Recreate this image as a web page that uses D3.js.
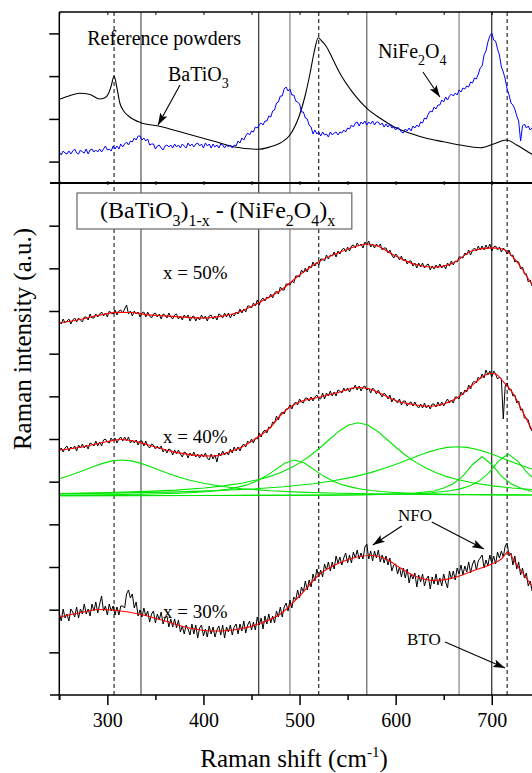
<!DOCTYPE html>
<html><head><meta charset="utf-8">
<script src="https://cdn.jsdelivr.net/npm/d3@7"></script>
<style>html,body{margin:0;padding:0;background:#fff;} svg{display:block;font-family:"Liberation Serif","Times New Roman",serif;}</style>
</head><body><svg id="chart" width="532" height="773"></svg>
<script>
// ---------------- DATA ----------------
// Raman shift grid (cm-1) of the measured spectra
const shiftGrid = d3.range(250, 751, 2);

// Top panel: reference powders (intensity, a.u.)
const nife2o4Ref = [
  31,28,32,30,29,32,29,32,34,30,
  29,33,31,30,34,29,33,34,31,33,
  31,34,31,34,37,33,34,32,37,34,
  37,34,39,36,39,41,38,42,41,45,
  43,47,47,43,45,42,44,38,39,39,
  34,37,38,35,33,37,38,36,38,35,
  39,36,38,35,39,37,35,40,37,39,
  36,39,40,37,39,35,40,37,39,35,
  39,36,38,35,39,38,35,38,36,38,
  35,38,37,42,40,45,43,47,50,48,
  52,51,56,55,58,60,58,62,62,67,
  66,72,73,80,81,87,87,94,96,92,
  94,88,88,82,81,79,71,71,65,64,
  58,56,49,53,49,51,47,51,48,49,
  46,51,48,50,51,48,51,50,53,51,
  55,54,58,56,60,61,57,61,59,62,
  58,61,59,62,58,61,61,58,60,56,
  59,56,59,55,56,53,56,54,51,50,
  54,52,55,52,57,55,58,56,61,60,
  65,64,69,72,71,76,74,78,78,83,
  81,86,83,87,89,87,90,88,93,91,
  95,94,97,96,101,100,105,104,109,115,
  117,128,132,141,147,150,143,142,134,128,
  116,111,104,94,88,80,78,74,67,62,
  42,57,59,55,57,53,55,51,53,49,
  51];
const batio3Ref = [[250,83.7],[260,87],[271,89.7],[282,88.5],[292,84],[297,85],[301,89],[304,97],[307,107],[310,95],[313,80],[317,72],[322,67],[335,60.3],[353,57],[380,50],[410,42],[431,36.3],[457,33.7],[469,36],[480,40],[490,48],[500,68],[506,88],[511,110],[515,130],[519.5,145.3],[523,142],[528,136.3],[535,123],[542,109.7],[556,89.7],[570,74.7],[584,64.7],[598,56.3],[615,49.7],[632,44.7],[650,41.3],[667,38],[688,35.3],[702,39],[715.5,43],[726,38],[742,28.7],[750,25]];

// Bottom panel: composites (intensity, a.u., offset stack)
const spec50 = [
  373,371,376,372,374,376,371,375,377,373,
  377,375,373,378,378,375,381,377,377,381,
  378,381,383,379,382,378,384,382,381,385,
  380,384,385,382,386,390,381,384,379,384,
  381,383,378,382,383,378,383,379,377,381,
  382,378,381,376,381,380,377,382,378,376,
  380,381,376,379,375,380,377,380,374,378,
  379,374,378,375,380,376,379,374,379,380,
  376,379,375,381,380,377,382,378,382,377,
  381,379,383,381,386,382,386,383,389,389,
  387,392,389,395,390,395,397,394,398,397,
  401,397,402,404,401,408,405,405,411,411,
  410,414,412,419,419,418,425,422,427,423,
  429,427,433,429,433,430,436,436,434,440,
  436,440,439,443,438,444,441,445,447,443,
  448,444,449,450,447,452,449,451,447,453,
  450,454,448,451,447,451,448,451,445,447,
  447,442,445,440,437,441,439,435,439,434,
  436,431,434,434,429,432,427,432,428,432,
  427,430,431,425,429,426,430,427,431,427,
  430,426,432,429,434,430,434,433,438,438,
  437,442,440,445,440,445,447,444,449,445,
  449,445,450,446,451,444,448,449,445,448,
  443,447,445,441,445,439,440,433,434,433,
  426,428,421,421,413,415,409,410,406,400,
  401];
const spec40 = [
  244,247,243,247,249,244,248,246,249,244,
  250,247,251,247,250,246,252,251,249,254,
  249,253,249,255,256,253,252,257,254,257,
  252,256,258,254,258,254,258,252,255,252,
  255,250,254,254,249,254,249,247,251,250,
  246,249,246,249,243,246,242,246,245,240,
  245,241,245,241,238,243,242,237,242,239,
  243,238,241,237,241,238,242,237,235,241,
  236,240,233,242,239,244,240,243,240,246,
  242,248,244,248,244,249,251,248,254,252,
  256,252,257,256,262,258,263,265,262,268,
  267,273,272,279,275,281,283,281,286,286,
  290,286,291,293,290,296,293,292,297,297,
  294,298,294,298,300,297,296,302,296,302,
  299,304,299,303,299,305,304,302,307,304,
  307,303,307,306,310,305,309,304,308,309,
  305,307,302,307,305,301,305,301,298,302,
  300,296,300,293,297,294,292,296,290,294,
  294,289,292,293,289,293,289,287,291,287,
  292,287,290,286,291,291,288,293,289,293,
  289,293,296,292,295,292,298,298,296,303,
  300,305,303,310,306,312,314,312,318,316,
  321,317,325,320,324,318,324,321,316,318,
  316,276,309,312,305,306,299,300,292,294,
  285,286,277,277,275,267,264,264,256,257,
  252];
const spec30 = [
  82,74,86,77,81,74,86,83,78,88,
  77,86,81,91,81,86,79,91,84,93,
  82,91,99,84,89,80,91,84,89,80,
  88,80,89,89,87,101,105,97,101,87,
  93,79,85,78,87,79,84,73,81,84,
  72,81,75,83,71,77,79,68,76,68,
  76,67,75,63,69,61,70,66,60,71,
  61,70,57,67,70,59,66,58,69,61,
  68,58,65,69,60,70,57,68,63,70,
  60,68,71,61,71,64,74,62,70,74,
  65,73,65,78,70,77,66,79,71,81,
  72,79,72,84,78,88,78,88,92,84,
  95,87,98,95,105,97,108,103,114,105,
  115,108,121,114,126,118,125,118,131,125,
  133,124,133,126,139,132,138,130,137,142,
  132,140,132,143,137,145,136,142,136,148,
  151,136,144,134,144,137,145,133,140,132,
  139,130,137,124,130,131,121,128,118,127,
  117,126,112,121,116,122,108,120,113,121,
  109,116,119,106,118,111,121,110,117,109,
  121,113,107,124,116,124,115,127,121,130,
  120,129,123,133,122,131,135,125,134,137,
  140,127,135,129,140,132,139,131,143,137,
  144,138,149,152,139,142,130,139,126,133,
  120,127,117,122,109,114,104,111,97,104,
  95];

const fit50 = [[250,372],[270,375.3],[290,379.5],[310,382.6],[325,382.5],[340,380.4],[360,379.1],[380,377.8],[400,377],[420,379],[440,384],[460,393.5],[480,404.5],[500,420],[520,433.3],[540,442],[560,449],[570,451],[580,449.2],[600,439],[620,430.7],[640,427.8],[660,432],[680,444.2],[700,447.1],[710,446.2],[716,443.5],[730,428.3],[740,413.3],[750,400]];
const fit40 = [[250,245],[275,248.3],[300,253.5],[315,255.5],[330,253.4],[350,248],[370,242.9],[390,239.9],[410,239],[425,242.5],[440,248],[455,256.8],[470,268],[480,279.5],[490,288],[500,293],[520,297.7],[540,302.5],[560,307.5],[570,306.8],[585,301.2],[600,294.6],[620,290.2],[635,288.7],[650,291],[665,297.7],[680,310],[690,318],[698,321.5],[704,321],[712,313.3],[722,301.7],[733,281.7],[742,265],[750,253]];
const fit30 = [[250,78],[270,82],[292,85.5],[310,84.5],[335,80.5],[360,74],[385,67],[410,64],[425,64.5],[440,66.5],[460,72],[480,81],[500,99],[520,120],[540,131.5],[560,138],[575,139.5],[590,136],[605,127],[620,119],[640,114.5],[660,117],[680,124],[700,131],[710,136],[717,143],[724,133],[733,121],[742,109],[750,99]];

// Fitted components of the x = 40% spectrum
const comp1 = [[250,216.3],[255,217.7],[265,220.9],[275,224.5],[285,228.2],[295,231.6],[305,234.1],[315,235.0],[325,234.1],[335,231.6],[345,228.2],[355,224.5],[365,220.9],[375,217.7],[385,215.0],[400,211.7],[420,208.5],[440,206.3],[470,204.2],[500,202.9],[540,201.8],[600,200.9],[660,200.4],[750,200.0]];
const comp2 = [[250,199.9],[295,200.2],[335,200.8],[355,201.2],[375,201.8],[395,202.8],[405,203.5],[415,204.5],[425,205.8],[435,207.6],[445,210.1],[455,213.8],[465,218.9],[475,225.4],[485,232.0],[495,235.0],[505,232.0],[515,225.4],[525,218.9],[535,213.8],[545,210.1],[555,207.6],[565,205.8],[575,204.5],[585,203.5],[595,202.8],[615,201.8],[635,201.2],[655,200.8],[695,200.2],[750,199.9]];
const comp3 = [[250,201.5],[301,202.4],[341,203.6],[371,204.9],[401,207.0],[421,209.1],[441,212.0],[461,216.3],[471,219.1],[481,222.7],[491,227.2],[501,232.6],[511,239.3],[521,247.0],[531,255.5],[541,263.8],[551,270.0],[561,272.3],[571,270.0],[581,263.8],[591,255.5],[601,247.0],[611,239.3],[621,232.6],[631,227.2],[641,222.7],[651,219.1],[661,216.3],[681,212.0],[701,209.1],[721,207.0],[750,204.9]];
const comp4 = [[250,201.3],[304,201.9],[364,202.9],[414,204.4],[454,206.2],[484,208.2],[514,211.2],[534,214.0],[554,217.6],[574,222.4],[594,228.5],[604,232.0],[614,235.7],[624,239.4],[634,242.9],[644,245.7],[654,247.6],[664,248.3],[674,247.6],[684,245.7],[694,242.9],[704,239.4],[714,235.7],[724,232.0],[734,228.5],[750,223.5]];
const comp5 = [[250,199.4],[390,199.5],[470,199.6],[530,199.9],[570,200.3],[600,201.05],[620,202.0],[640,204.0],[650,207.1],[660,211.3],[670,218.8],[680,230.5],[690,238.3],[700,230.5],[710,218.8],[720,211.3],[730,207.1],[740,204.0],[750,202.8]];
const comp6 = [[250,199.4],[417,199.5],[487,199.7],[547,200.0],[587,200.5],[617,201.2],[637,202.2],[657,204.2],[667,206.1],[677,209.0],[687,213.9],[697,222.1],[707,233.9],[717,241.0],[727,233.9],[737,222.1],[747,213.9],[750,212.1]];

// Mode positions (cm-1)
const dashedModes = [307, 520, 716];
const solidModes = [335, 457.5, 490, 570, 666, 700];

// Axis ticks
const majorTicks = [300, 400, 500, 600, 700];
const minorTicks = [250, 350, 450, 550, 650, 750];
const topYTicks = [21.4, 64.1, 106.9, 149.6];
const bottomYTicks = d3.range(1, 12).map(i => i * 512 / 12);

// ---------------- CHART ----------------
const svg = d3.select("#chart");
const FONT = '"Liberation Serif","Times New Roman",serif';
const pL = 59.3, pR = 539.8, pT = 12, pM = 183, pB = 695;

const x = d3.scaleLinear().domain([250, 750]).range([pL, pR]);
const yTop = d3.scaleLinear().domain([0, 171]).range([pM, pT]);
const yBot = d3.scaleLinear().domain([0, 512]).range([pB, pM]);

const defs = svg.append("defs");
defs.append("clipPath").attr("id", "clipTop").append("rect")
  .attr("x", pL).attr("y", pT).attr("width", 532 - pL).attr("height", pM - pT);
defs.append("clipPath").attr("id", "clipBot").append("rect")
  .attr("x", pL).attr("y", pM).attr("width", 532 - pL).attr("height", pB - pM);
defs.append("marker").attr("id", "arrow").attr("viewBox", "0 0 12 8")
  .attr("refX", 12).attr("refY", 4).attr("markerWidth", 12).attr("markerHeight", 8)
  .attr("markerUnits", "userSpaceOnUse").attr("orient", "auto")
  .append("path").attr("d", "M0,0 L12,4 L0,8 L2.5,4 Z").attr("fill", "#000");

// vertical mode lines
const shade = {335: "#444", 457.5: "#222", 490: "#777", 570: "#555", 666: "#777", 700: "#111"};
svg.append("g").selectAll("line").data(solidModes).join("line")
  .attr("x1", d => x(d)).attr("x2", d => x(d)).attr("y1", pT).attr("y2", pB)
  .attr("stroke", d => shade[d]).attr("stroke-width", 1.1);
svg.append("g").selectAll("line").data(dashedModes).join("line")
  .attr("x1", d => x(d)).attr("x2", d => x(d)).attr("y1", pT).attr("y2", pB)
  .attr("stroke", "#000").attr("stroke-width", 1).attr("stroke-dasharray", "4,3");

// line generators
const lineTopGrid = d3.line().x((d, i) => x(shiftGrid[i])).y(d => yTop(d));
const lineTopPairs = d3.line().x(d => x(d[0])).y(d => yTop(d[1])).curve(d3.curveMonotoneX);
const lineBotGrid = d3.line().x((d, i) => x(shiftGrid[i])).y(d => yBot(d));
const lineBotPairs = d3.line().x(d => x(d[0])).y(d => yBot(d[1])).curve(d3.curveMonotoneX);
const lineBotLin = d3.line().x(d => x(d[0])).y(d => yBot(d[1]));

const gTop = svg.append("g").attr("clip-path", "url(#clipTop)");
gTop.append("path").attr("d", lineTopPairs(batio3Ref)).attr("fill", "none").attr("stroke", "#000").attr("stroke-width", 1.1);
gTop.append("path").attr("d", lineTopGrid(nife2o4Ref)).attr("fill", "none").attr("stroke", "#0000ff").attr("stroke-width", 1);

const gBot = svg.append("g").attr("clip-path", "url(#clipBot)");
[comp1, comp2, comp3, comp4, comp5, comp6].forEach(c => {
  gBot.append("path").attr("d", lineBotLin(c)).attr("fill", "none").attr("stroke", "#00e600").attr("stroke-width", 1.1);
});
[spec50, spec40, spec30].forEach(s => {
  gBot.append("path").attr("d", lineBotGrid(s)).attr("fill", "none").attr("stroke", "#000").attr("stroke-width", 1);
});
[fit50, fit40, fit30].forEach(f => {
  gBot.append("path").attr("d", lineBotPairs(f)).attr("fill", "none").attr("stroke", "#ff0000").attr("stroke-width", 1.1);
});

// frame
const frame = svg.append("g").attr("stroke", "#000");
frame.append("line").attr("x1", pL).attr("x2", 532).attr("y1", pT).attr("y2", pT).attr("stroke-width", 1.5);
frame.append("line").attr("x1", 50).attr("x2", 532).attr("y1", pM).attr("y2", pM).attr("stroke-width", 1.8);
frame.append("line").attr("x1", 50).attr("x2", 532).attr("y1", pB).attr("y2", pB).attr("stroke-width", 1.5);
frame.append("line").attr("x1", pL).attr("x2", pL).attr("y1", pT).attr("y2", pB + 5).attr("stroke-width", 1.5);

// y ticks (outward, no labels)
const yAxTop = svg.append("g").attr("transform", `translate(${pL},0)`)
  .call(d3.axisLeft(yTop).tickValues(topYTicks).tickSize(10).tickSizeOuter(0).tickFormat(""));
const yAxBot = svg.append("g").attr("transform", `translate(${pL},0)`)
  .call(d3.axisLeft(yBot).tickValues(bottomYTicks).tickSize(10).tickSizeOuter(0).tickFormat(""));
[yAxTop, yAxBot].forEach(g => {
  g.select(".domain").remove();
  g.selectAll(".tick line").attr("stroke-width", 1.5);
});

// bottom x axis
const xAx = svg.append("g").attr("transform", `translate(0,${pB})`)
  .call(d3.axisBottom(x).tickValues(majorTicks).tickSize(10).tickPadding(8).tickFormat(d3.format("d")));
xAx.select(".domain").remove();
xAx.selectAll(".tick line").attr("stroke-width", 1.5);
xAx.selectAll("text").attr("font-family", FONT).attr("font-size", 20).attr("fill", "#000");
const xMin = svg.append("g").attr("transform", `translate(0,${pB})`)
  .call(d3.axisBottom(x).tickValues(minorTicks).tickSize(5).tickFormat(""));
xMin.select(".domain").remove();
xMin.selectAll(".tick line").attr("stroke-width", 1.5);

// small inner ticks on top border and on the panel divider
const allTicks = majorTicks.concat(minorTicks);
const tTop = svg.append("g").attr("transform", `translate(0,${pT})`)
  .call(d3.axisBottom(x).tickValues(allTicks).tickSize(3).tickFormat(""));
tTop.select(".domain").remove();
const tMid = svg.append("g").attr("transform", `translate(0,${pM - 2})`)
  .call(d3.axisBottom(x).tickValues(allTicks).tickSize(4).tickFormat(""));
tMid.select(".domain").remove();

// axis titles
svg.append("text").attr("transform", "translate(31,339) rotate(-90)")
  .attr("text-anchor", "middle").attr("font-size", 25).attr("font-family", FONT)
  .text("Raman intensity (a.u.)");
const xt = svg.append("text").attr("x", 294).attr("y", 767).attr("text-anchor", "middle")
  .attr("font-size", 25).attr("font-family", FONT);
xt.append("tspan").text("Raman shift (cm");
xt.append("tspan").attr("dy", -10).attr("font-size", 15).text("-1");
xt.append("tspan").attr("dy", 10).text(")");

// annotations (positions in data coordinates)
function txt(panelY, sx, sy, size) {
  return svg.append("text").attr("x", x(sx)).attr("y", panelY(sy))
    .attr("font-size", size).attr("font-family", FONT).attr("fill", "#000");
}
// segments: [text, isSubscript]
function rich(t, segs, subSize, shift) {
  let prev = false;
  segs.forEach(([s, isSub]) => {
    const dy = isSub ? (prev ? 0 : shift) : (prev ? -shift : 0);
    const ts = t.append("tspan").attr("dy", dy).text(s);
    if (isSub) ts.attr("font-size", subSize);
    prev = isSub;
  });
}
function arrow(panelY, a, b) {
  svg.append("line").attr("x1", x(a[0])).attr("y1", panelY(a[1]))
    .attr("x2", x(b[0])).attr("y2", panelY(b[1]))
    .attr("stroke", "#000").attr("stroke-width", 1.1).attr("marker-end", "url(#arrow)");
}

txt(yTop, 279.1, 138, 20).text("Reference powders");
rich(txt(yTop, 363.1, 102, 20), [["BaTiO", 0], ["3", 1]], 14, 7);
arrow(yTop, [375.6, 98], [352.7, 58]);
rich(txt(yTop, 581.7, 125, 20), [["NiFe", 0], ["2", 1], ["O", 0], ["4", 1]], 14, 7);
arrow(yTop, [628.4, 111], [646, 86]);

svg.append("rect").attr("x", x(268.4)).attr("y", yBot(502))
  .attr("width", x(554.4) - x(268.4)).attr("height", yBot(466) - yBot(502))
  .attr("fill", "#fff").attr("stroke", "#666").attr("stroke-width", 1.2);
rich(txt(yBot, 292.4, 477.5, 24),
  [["(BaTiO", 0], ["3", 1], [")", 0], ["1-x", 1], [" - (NiFe", 0], ["2", 1], ["O", 0], ["4", 1], [")", 0], ["x", 1]], 16, 8);

txt(yBot, 357.9, 416, 19).text("x = 50%");
txt(yBot, 357.9, 252, 19).text("x = 40%");
txt(yBot, 357.9, 77, 19).text("x = 30%");

txt(yBot, 602.4, 174, 17).text("NFO");
arrow(yBot, [606.4, 169], [576.2, 150]);
arrow(yBot, [637.6, 173], [691.8, 146]);
txt(yBot, 611.8, 50, 17).text("BTO");
arrow(yBot, [651.4, 53], [713.8, 27]);
</script></body></html>
